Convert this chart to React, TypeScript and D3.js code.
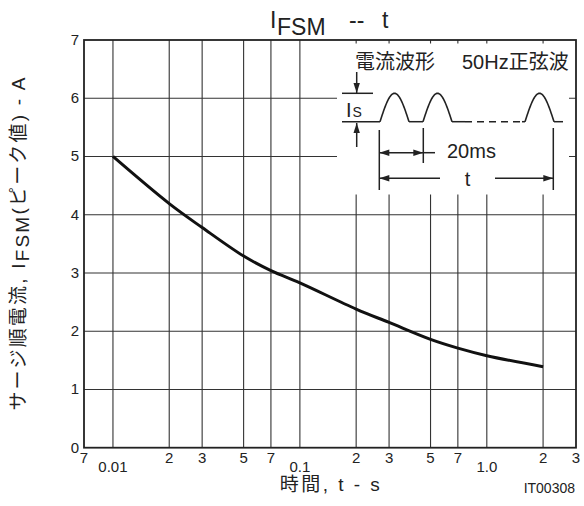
import React from "react";
import * as d3 from "d3";

const times = [0.01, 0.02, 0.03, 0.05, 0.07, 0.1, 0.2, 0.3, 0.5, 0.7, 1.0, 2.0];
const current = [5.0, 4.19, 3.78, 3.29, 3.04, 2.83, 2.38, 2.15, 1.86, 1.71, 1.58, 1.39];
const xGrid = [0.01, 0.02, 0.03, 0.05, 0.07, 0.1, 0.2, 0.3, 0.5, 0.7, 1.0, 2.0];
const xMinorLabels = [
  { v: 0.007, t: "7" }, { v: 0.02, t: "2" }, { v: 0.03, t: "3" }, { v: 0.05, t: "5" }, { v: 0.07, t: "7" },
  { v: 0.2, t: "2" }, { v: 0.3, t: "3" }, { v: 0.5, t: "5" }, { v: 0.7, t: "7" }, { v: 2, t: "2" }, { v: 3, t: "3" },
];
const xDecadeLabels = [
  { v: 0.01, t: "0.01" }, { v: 0.1, t: "0.1" }, { v: 1.0, t: "1.0" },
];
const yTicks = [0, 1, 2, 3, 4, 5, 6, 7];

const W = 584, H = 506;
const L = 84, R = 576, T = 40, B = 447.7;
const FONT = "'Liberation Sans', Arial, 'Noto Sans CJK JP', sans-serif";
const INK = "#222";

function Arrow({ x1, y1, x2, y2, head2 = true, head1 = false }: any) {
  const ang = Math.atan2(y2 - y1, x2 - x1);
  const hl = 10, hw = 3.2;
  const head = (x: number, y: number, a: number) => {
    const bx = x - hl * Math.cos(a), by = y - hl * Math.sin(a);
    const px = -Math.sin(a) * hw, py = Math.cos(a) * hw;
    return `M${x},${y}L${bx + px},${by + py}L${bx - px},${by - py}Z`;
  };
  return (
    <g>
      <line x1={x1} y1={y1} x2={x2} y2={y2} stroke={INK} strokeWidth={1.5} />
      {head2 && <path d={head(x2, y2, ang)} fill={INK} />}
      {head1 && <path d={head(x1, y1, ang + Math.PI)} fill={INK} />}
    </g>
  );
}

function Hump({ x0, x1, base, peak }: any) {
  const pts = d3.range(0, 41).map((i) => {
    const f = i / 40;
    return [x0 + (x1 - x0) * f, base - (base - peak) * Math.sin(Math.PI * f)] as [number, number];
  });
  return <path d={d3.line()(pts) || ""} fill="none" stroke={INK} strokeWidth={1.6} />;
}

export default function App() {
  const x = d3.scaleLog().domain([0.007, 3]).range([L, R]);
  const y = d3.scaleLinear().domain([0, 7]).range([B, T]);
  const line = d3
    .line<number>()
    .x((_, i) => x(times[i]))
    .y((d) => y(d))
    .curve(d3.curveCatmullRom.alpha(0.5));

  const base = 121.7, peak = 93.3;

  return (
    <svg width={W} height={H} style={{ position: "absolute", left: 0, top: 0, background: "#fff" }} fontFamily={FONT}>
      <rect x={0} y={0} width={W} height={H} fill="#fff" />
      {/* grid */}
      {xGrid.map((v) => (
        <line key={"gx" + v} x1={x(v)} x2={x(v)} y1={T} y2={B} stroke="#333" strokeWidth={1.1} />
      ))}
      {yTicks.slice(1, -1).map((v) => (
        <line key={"gy" + v} x1={L} x2={R} y1={y(v)} y2={y(v)} stroke="#333" strokeWidth={1.1} />
      ))}
      {/* inset white cover */}
      <rect x={337} y={43.5} width={232} height={151} fill="#fff" />
      {/* curve */}
      <path d={line(current) || ""} fill="none" stroke="#111" strokeWidth={3} />
      {/* frame */}
      <rect x={L} y={T} width={R - L} height={B - T} fill="none" stroke={INK} strokeWidth={1.8} />

      {/* y tick labels */}
      {yTicks.map((v) => (
        <text key={"yl" + v} x={79} y={y(v) + 5} textAnchor="end" fontSize={15} fill={INK}>{v}</text>
      ))}
      {/* x tick labels */}
      {xMinorLabels.map((d, i) => (
        <text key={"xm" + i} x={x(d.v)} y={463} textAnchor="middle" fontSize={15} fill={INK}>{d.t}</text>
      ))}
      {xDecadeLabels.map((d, i) => (
        <text key={"xd" + i} x={x(d.v)} y={472} textAnchor="middle" fontSize={15} fill={INK}>{d.t}</text>
      ))}

      {/* title */}
      <text x={270} y={28} fontSize={23} fill={INK}>I</text>
      <text x={277} y={34.5} fontSize={23} fill={INK}>FSM</text>
      <text x={349} y={28} fontSize={23} fill={INK}>--</text>
      <text x={382} y={28} fontSize={23} fill={INK}>t</text>

      {/* axis titles */}
      <text x={331} y={491} textAnchor="middle" fontSize={19} letterSpacing={2.5} fill={INK}>時間, t - s</text>
      <text x={575} y={493} textAnchor="end" fontSize={14} fill={INK}>IT00308</text>
      <text transform="translate(25,243) rotate(-90)" textAnchor="middle" fontSize={19} letterSpacing={2.2} fill={INK}>
        <tspan>サージ順電流, I</tspan>
        <tspan dy={4}>FSM</tspan>
        <tspan dy={-4}>(ピーク値) - A</tspan>
      </text>

      {/* inset */}
      <text x={355} y={69} fontSize={20} fill={INK}>電流波形</text>
      <text x={462} y={69} fontSize={20} fill={INK}>50Hz正弦波</text>
      <Arrow x1={356.7} y1={72} x2={356.7} y2={93} />
      <line x1={342} x2={373} y1={93.3} y2={93.3} stroke={INK} strokeWidth={1.5} />
      <line x1={342} x2={380} y1={base} y2={base} stroke={INK} strokeWidth={1.5} />
      <Arrow x1={356.7} y1={147} x2={356.7} y2={123} />
      <text x={346} y={117} fontSize={20} fill={INK}>I</text>
      <text x={352.5} y={117} fontSize={14} fill={INK}>S</text>
      <Hump x0={380} x1={409} base={base} peak={peak} />
      <line x1={409} x2={423} y1={base} y2={base} stroke={INK} strokeWidth={1.5} />
      <Hump x0={423} x1={452} base={base} peak={peak} />
      <line x1={452} x2={465} y1={base} y2={base} stroke={INK} strokeWidth={1.5} />
      <line x1={465} x2={522} y1={base} y2={base} stroke={INK} strokeWidth={1.5} strokeDasharray="7,5" />
      <line x1={522} x2={525} y1={base} y2={base} stroke={INK} strokeWidth={1.5} />
      <Hump x0={525} x1={554} base={base} peak={peak} />
      <line x1={554} x2={563} y1={base} y2={base} stroke={INK} strokeWidth={1.5} />
      <line x1={379.3} x2={379.3} y1={130} y2={190} stroke={INK} strokeWidth={1.5} />
      <line x1={423.3} x2={423.3} y1={128} y2={163} stroke={INK} strokeWidth={1.5} />
      <line x1={553.3} x2={553.3} y1={128} y2={190} stroke={INK} strokeWidth={1.5} />
      <Arrow x1={379.3} y1={152.7} x2={423.3} y2={152.7} head1={true} />
      <line x1={423.3} x2={435} y1={152.7} y2={152.7} stroke={INK} strokeWidth={1.5} />
      <text x={447} y={158} fontSize={20} fill={INK}>20ms</text>
      <Arrow x1={440} y1={178.3} x2={379.3} y2={178.3} />
      <text x={467.5} y={186} textAnchor="middle" fontSize={20} fill={INK}>t</text>
      <Arrow x1={495} y1={178.3} x2={553.3} y2={178.3} />
    </svg>
  );
}
